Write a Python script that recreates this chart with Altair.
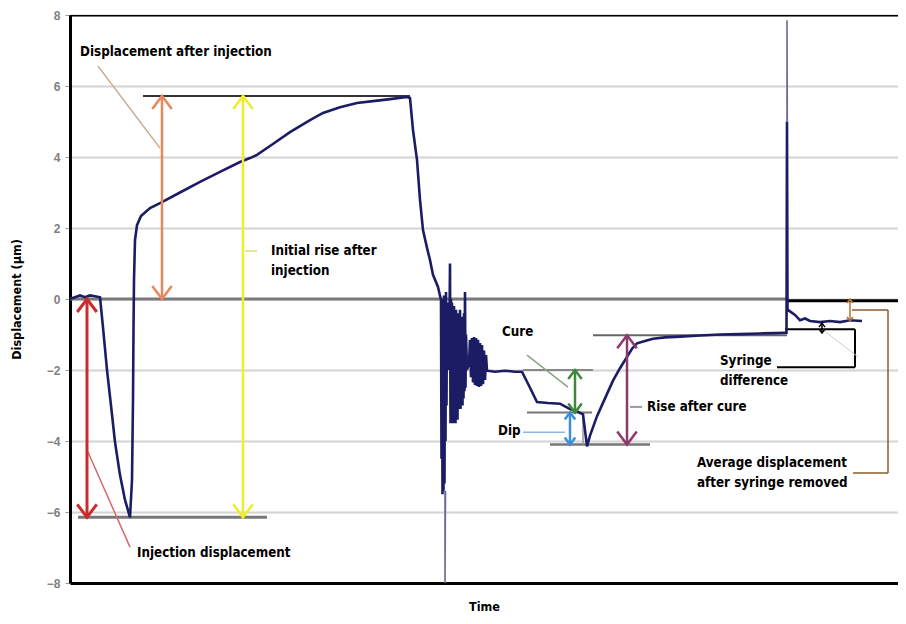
import altair as alt
import pandas as pd

# ---------------- data (time in arbitrary units, displacement in um) ----------------
line_t = [0, 5, 10, 15, 20, 25, 30, 33, 37, 41, 45, 50, 55, 60,
          62, 63, 63.5, 64, 65, 67, 71, 80, 90, 110, 130, 150, 170, 180, 187, 200, 220, 240, 253,
          270, 287, 305, 320, 337, 340,
          343, 347, 350, 353, 357, 360, 363, 368, 371,
          371, 371.5, 372, 372.5, 373, 373.5, 374, 374.5, 375, 375.5, 376, 376.5, 377,
          378, 379, 380, 380.5, 381, 381.5, 382, 382.5, 383, 383.5, 384, 384.5, 385, 385.5,
          386, 386.5, 387, 387.5, 388, 388.5, 389, 389.5, 390, 390.5, 391, 391.5, 392, 392.5,
          393, 393.5, 394, 394.5, 395, 395.5, 396, 397, 399,
          400, 401, 402, 403, 404, 405, 406, 407, 408, 409, 410, 411, 412, 413, 414, 415, 416, 417,
          425, 435, 445, 452, 460, 467, 478, 490, 500, 508, 513, 517,
          520, 527, 535, 543, 550, 557, 562, 567, 575, 583, 595, 610, 630, 650, 670, 690, 705, 715,
          716.5, 717, 717.5, 720, 725, 730, 735, 740, 750, 760, 770, 780, 792]
line_y = [0.0, 0.05, 0.1, 0.05, 0.1, 0.08, 0.05, -0.8, -2.0, -3.0, -4.03, -4.96, -5.66, -6.15,
          -5.1, -2.85, -0.87, 0.54, 1.66, 2.08, 2.34, 2.56, 2.7, 3.0, 3.3, 3.58, 3.86, 3.97, 4.06,
          4.31, 4.7, 5.04, 5.24, 5.4, 5.52, 5.58, 5.63, 5.69, 5.66,
          4.76, 3.92, 2.79, 1.94, 1.44, 1.1, 0.68, 0.34, -0.03,
          -0.1, -4.5, 0.0, -5.5, -0.2, -5.4, 0.1, -5.2, -0.3, -4.0, 0.2, -3.0, -0.1,
          -0.5, -2.0, 1.0, -3.5, 0.0, -3.5, -0.1, -3.4, -0.3, -3.5, -0.2, -3.3, -0.5, -3.5,
          -0.3, -3.2, -0.6, -3.4, -0.4, -3.1, -0.5, -3.0, -0.3, -3.1, -0.6, -2.9, -0.5, -3.0,
          -0.7, -2.8, -0.4, -2.6, 0.2, -2.5, -1.0, -2.0, -1.8,
          -1.15, -2.2, -1.1, -2.35, -1.07, -2.42, -1.1, -2.45, -1.15, -2.48, -1.24, -2.45, -1.3, -2.4, -1.45, -2.28, -1.58, -2.02,
          -2.05, -2.02, -2.05, -2.05, -2.5, -2.9, -2.93, -2.95, -3.1, -3.18, -3.25, -4.15,
          -3.85, -3.3, -2.8, -2.3, -1.95, -1.63, -1.4, -1.25, -1.18, -1.12, -1.08, -1.06, -1.03, -1.0,
          -0.99, -0.97, -0.96, -0.95,
          -0.95, 5.0, -0.3, -0.35, -0.45, -0.6, -0.55, -0.62, -0.65, -0.62, -0.65, -0.6, -0.62]

spike_t = [375, 375, 375.5, 717, 717, 717.3]
spike_y = [-5.4, -8.0, -5.4, 5.0, 7.85, 5.0]
spike_id = ["a", "a", "a", "b", "b", "b"]

# reference / leader segments
seg_t1 = [73, 8, 0, 717, 453, 457, 480, 523, 715, 785, 707, 513, 782, 818, 783, 0,
          28, 175, 18, 457, 453, 560, 753]
seg_y1 = [5.72, -6.15, 0.0, -0.05, -2.0, -3.2, -4.1, -1.02, -0.85, -0.85, -1.92, -3.2, -0.31, -0.31, -4.9, 8.0,
          6.56, 1.35, -4.31, -1.58, -3.75, -3.04, -0.87]
seg_t2 = [340, 197, 717, 836, 523, 522, 580, 717, 785, 785, 785, 513, 818, 818, 818, 836,
          90, 187, 60, 498, 495, 572, 788]
seg_y2 = [5.72, -6.15, 0.0, -0.05, -2.0, -3.2, -4.1, -1.02, -0.85, -1.92, -1.92, -4.1, -0.31, -4.9, -4.9, 8.0,
          4.25, 1.35, -6.99, -2.48, -3.75, -3.04, -1.63]
seg_color = ["#333333", "#777777", "#7a7a7a", "#000000", "#888888", "#777777", "#777777", "#666666",
             "#000000", "#000000", "#000000", "#999999", "#8b5a2b", "#8b5a2b", "#8b5a2b", "#000000",
             "#c9a98c", "#d8e070", "#d46a6a", "#8ea585", "#88b6e4", "#999999", "#cccccc"]
seg_width = [2, 3, 3, 3, 2, 2, 2.5, 2, 2, 2, 2, 1.5, 1.5, 1.5, 1.5, 3,
             1.5, 1.5, 1.5, 1.5, 1.5, 2, 1]

# double-headed arrows
arr_t = [92, 173, 17, 505, 500, 557, 752, 780]
arr_top = [5.72, 5.72, 0.0, -2.0, -3.2, -1.02, -0.68, 0.0]
arr_bot = [0.0, -6.15, -6.15, -3.2, -4.1, -4.1, -0.96, -0.62]
arr_color = ["#e8875a", "#f0ec2c", "#cc2b2b", "#3a8a3a", "#3a90d8", "#8b3a6b", "#000000", "#b07030"]
arr_width = [2.5, 2.5, 3, 2.5, 2.5, 2.5, 1.5, 1.5]
arr_head = [676, 676, 676, 324, 196, 676, 64, 64]

# labels
lab_text = ["Displacement after injection", "Initial rise after", "injection", "Injection displacement",
            "Cure", "Dip", "Rise after cure", "Syringe", "difference",
            "Average displacement", "after syringe removed"]
lab_t = [10, 201, 201, 67, 432, 428, 577, 650, 650, 627, 627]
lab_y = [6.96, 1.35, 0.79, -7.15, -0.93, -3.72, -3.04, -1.75, -2.31, -4.62, -5.18]

y_ticks = [-8, -6, -4, -2, 0, 2, 4, 6, 8]

FONT = "Liberation Sans Narrow, DejaVu Sans Condensed, Liberation Sans, sans-serif"

# ---------------- frames ----------------
line_df = pd.DataFrame({"t": line_t, "y": line_y, "i": list(range(len(line_t)))})
spike_df = pd.DataFrame({"t": spike_t, "y": spike_y, "id": spike_id, "i": list(range(len(spike_t)))})
seg_df = pd.DataFrame({"t": seg_t1, "y": seg_y1, "t2": seg_t2, "y2": seg_y2,
                       "c": seg_color, "w": seg_width})
arr_df = pd.DataFrame({"t": arr_t, "top": arr_top, "bot": arr_bot, "c": arr_color,
                       "w": arr_width, "s": arr_head})
lab_df = pd.DataFrame({"txt": lab_text, "t": lab_t, "y": lab_y})

xs = alt.Scale(domain=[0, 828], nice=False, zero=False)
ys = alt.Scale(domain=[-8, 8], nice=False, zero=False)

x_axis = alt.Axis(title="Time", labels=False, ticks=False, grid=False, domain=True,
                  domainColor="#000000", domainWidth=3, titleFont=FONT, titleFontSize=12.5,
                  titleFontWeight="bold", titleColor="#000000", titleY=23, titleBaseline="middle")
y_axis = alt.Axis(title="Displacement (μm)", values=y_ticks, grid=True, gridColor="#d4d4d4",
                  gridWidth=2, domain=True, domainColor="#000000", domainWidth=3,
                  tickColor="#999999", tickSize=5, labelPadding=5, labelColor="#7f7f7f",
                  labelFont="Liberation Sans", labelFontWeight="bold", labelFontSize=12,
                  titleFont=FONT, titleFontSize=12.5, titleFontWeight="bold", titleColor="#000000",
                  titleAngle=-90, titleX=-54, titleY=284, titleAlign="center",
                  titleBaseline="middle")

base_grid = alt.Chart(line_df).mark_line(opacity=0).encode(
    x=alt.X("t:Q", scale=xs, axis=x_axis),
    y=alt.Y("y:Q", scale=ys, axis=y_axis),
)

segs = alt.Chart(seg_df).mark_rule(clip=True).encode(
    x=alt.X("t:Q", scale=xs), x2="t2:Q",
    y=alt.Y("y:Q", scale=ys), y2="y2:Q",
    color=alt.Color("c:N", scale=None),
    strokeWidth=alt.StrokeWidth("w:Q", scale=None),
)

shafts = alt.Chart(arr_df).mark_rule().encode(
    x=alt.X("t:Q", scale=xs), y=alt.Y("top:Q", scale=ys), y2="bot:Q",
    color=alt.Color("c:N", scale=None),
    strokeWidth=alt.StrokeWidth("w:Q", scale=None),
)
heads_up = alt.Chart(arr_df).mark_point(shape="M -0.75 1 L 0 0 L 0.75 1", filled=False,
                                         opacity=1).encode(
    x=alt.X("t:Q", scale=xs), y=alt.Y("top:Q", scale=ys),
    color=alt.Color("c:N", scale=None),
    size=alt.Size("s:Q", scale=None),
    strokeWidth=alt.StrokeWidth("w:Q", scale=None),
)
heads_dn = alt.Chart(arr_df).mark_point(shape="M -0.75 -1 L 0 0 L 0.75 -1", filled=False,
                                         opacity=1).encode(
    x=alt.X("t:Q", scale=xs), y=alt.Y("bot:Q", scale=ys),
    color=alt.Color("c:N", scale=None),
    size=alt.Size("s:Q", scale=None),
    strokeWidth=alt.StrokeWidth("w:Q", scale=None),
)

main = alt.Chart(line_df).mark_line(color="#1c1c64", strokeWidth=2.6, clip=True).encode(
    x=alt.X("t:Q", scale=xs), y=alt.Y("y:Q", scale=ys), order="i:Q",
)
spikes = alt.Chart(spike_df).mark_line(color="#6a6a98", strokeWidth=1.6, clip=True).encode(
    x=alt.X("t:Q", scale=xs), y=alt.Y("y:Q", scale=ys), detail="id:N", order="i:Q",
)

labels = alt.Chart(lab_df).mark_text(align="left", baseline="middle", font=FONT, fontSize=13.3,
                                     fontWeight="bold", color="#000000").encode(
    x=alt.X("t:Q", scale=xs), y=alt.Y("y:Q", scale=ys), text="txt:N",
)

chart = alt.layer(base_grid, segs, main, spikes, shafts, heads_up, heads_dn, labels).properties(
    width=828, height=568,
    autosize=alt.AutoSizeParams(type="none"),
    padding={"left": 62, "top": 7, "right": 0, "bottom": 33},
    background="#ffffff",
).configure_view(stroke=None)

chart.save("out.html", embed_options={"renderer": "svg", "actions": False})
